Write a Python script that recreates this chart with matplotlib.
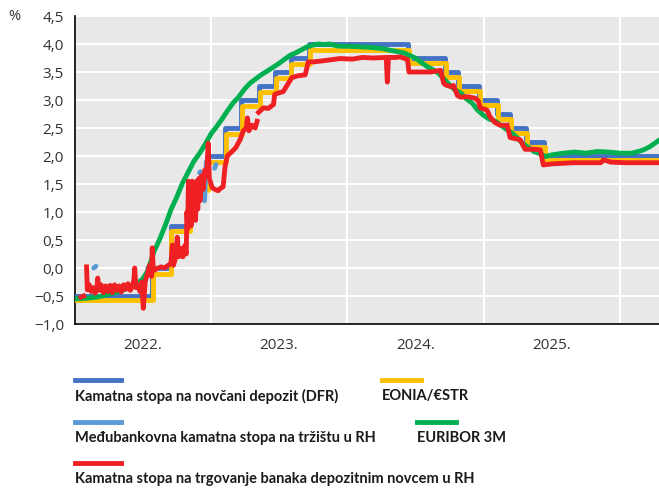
import numpy as np
import pandas as pd
import matplotlib
matplotlib.use('Agg')
import matplotlib.pyplot as plt
from matplotlib.lines import Line2D
from matplotlib.ticker import FuncFormatter, FixedLocator
import matplotlib.dates as mdates

# --- podaci (očitano sa slike) ---
dfr_datumi = ['2022-01-01', '2022-07-27', '2022-09-14', '2022-11-02', '2022-12-21',
              '2023-02-08', '2023-03-22', '2023-05-10', '2023-06-21', '2023-08-02',
              '2023-09-20', '2024-06-12', '2024-09-18', '2024-10-23', '2024-12-18',
              '2025-02-05', '2025-03-12', '2025-04-23', '2025-06-11', '2026-04-15']
dfr = [-0.5, 0.0, 0.75, 1.5, 2.0, 2.5, 3.0, 3.25, 3.5, 3.75,
       4.0, 3.75, 3.5, 3.25, 3.0, 2.75, 2.5, 2.25, 2.0, 2.0]

estr_datumi = ['2022-01-01', '2022-07-29', '2022-09-16', '2022-11-04', '2022-12-23',
               '2023-02-10', '2023-03-24', '2023-05-12', '2023-06-23', '2023-08-04',
               '2023-09-22', '2024-06-14', '2024-09-20', '2024-10-25', '2024-12-20',
               '2025-02-07', '2025-03-14', '2025-04-25', '2025-06-13', '2026-04-15']
estr = [-0.58, -0.10, 0.66, 1.40, 1.90, 2.40, 2.90, 3.15, 3.40, 3.65,
        3.90, 3.66, 3.41, 3.16, 2.91, 2.66, 2.41, 2.16, 1.92, 1.92]

euribor_datumi = ['2022-01-01', '2022-02-01', '2022-03-01', '2022-04-01', '2022-05-01',
                  '2022-06-01', '2022-06-15', '2022-07-01', '2022-07-15', '2022-08-01',
                  '2022-08-15', '2022-09-01', '2022-09-15', '2022-10-01', '2022-10-15',
                  '2022-11-01', '2022-11-15', '2022-12-01', '2022-12-15', '2023-01-01',
                  '2023-01-15', '2023-02-01', '2023-02-15', '2023-03-01', '2023-03-15',
                  '2023-04-01', '2023-04-15', '2023-05-01', '2023-05-15', '2023-06-01',
                  '2023-06-15', '2023-07-01', '2023-07-15', '2023-08-01', '2023-08-15',
                  '2023-09-01', '2023-09-15', '2023-10-01', '2023-10-15', '2023-11-01',
                  '2023-11-15', '2023-12-01', '2023-12-15', '2024-01-01', '2024-02-01',
                  '2024-03-01', '2024-04-01', '2024-05-01', '2024-06-01', '2024-07-01',
                  '2024-07-15', '2024-08-01', '2024-08-15', '2024-09-01', '2024-09-15',
                  '2024-10-01', '2024-10-15', '2024-11-01', '2024-11-15', '2024-12-01',
                  '2024-12-15', '2025-01-01', '2025-01-15', '2025-02-01', '2025-02-15',
                  '2025-03-01', '2025-03-15', '2025-04-01', '2025-04-15', '2025-05-01',
                  '2025-05-15', '2025-06-01', '2025-06-15', '2025-07-01', '2025-08-01',
                  '2025-09-01', '2025-10-01', '2025-11-01', '2025-12-01', '2026-01-01',
                  '2026-02-01', '2026-03-01', '2026-03-20', '2026-04-15']
euribor = [-0.55, -0.54, -0.52, -0.47, -0.42,
           -0.33, -0.28, -0.20, -0.05, 0.30,
           0.50, 0.78, 1.04, 1.27, 1.50,
           1.72, 1.90, 2.05, 2.20, 2.40,
           2.52, 2.68, 2.82, 2.95, 3.05,
           3.20, 3.30, 3.38, 3.45, 3.52,
           3.58, 3.65, 3.72, 3.80, 3.84,
           3.90, 3.95, 3.98, 4.00, 3.99,
           4.00, 3.97, 3.96, 3.96, 3.95,
           3.94, 3.92, 3.88, 3.84, 3.75,
           3.68, 3.60, 3.55, 3.48, 3.38,
           3.27, 3.18, 3.12, 3.02, 2.94,
           2.82, 2.72, 2.66, 2.62, 2.55,
           2.48, 2.42, 2.32, 2.22, 2.15,
           2.08, 2.04, 1.99, 2.02, 2.05,
           2.07, 2.05, 2.08, 2.07, 2.05,
           2.05, 2.10, 2.16, 2.28]

mnkt_datumi = ['2022-02-20', '2022-02-26', '2022-03-01', '2022-07-15', '2022-08-01', '2022-08-02',
               '2022-12-01', '2022-12-03', '2022-12-04', '2022-12-14', '2022-12-16', '2022-12-19',
               '2022-12-20', '2023-01-10', '2023-01-14']
mnkt = [0.00, 0.03, np.nan, 0.0, 0.0, np.nan,
        1.70, 1.72, np.nan, 1.20, 1.50, 1.90,
        np.nan, 1.78, 1.85]

dep_datumi = ['2022-01-17', '2022-01-24', '2022-01-28', '2022-02-01', '2022-02-03', '2022-02-08',
              '2022-02-13', '2022-02-18', '2022-02-24', '2022-03-01', '2022-03-03', '2022-03-06',
              '2022-03-12', '2022-03-18', '2022-03-24', '2022-03-30', '2022-04-05', '2022-04-11',
              '2022-04-17', '2022-04-23', '2022-04-29', '2022-05-05', '2022-05-11', '2022-05-17',
              '2022-05-23', '2022-05-29', '2022-06-04', '2022-06-08', '2022-06-10', '2022-06-13',
              '2022-06-18', '2022-06-24', '2022-06-29', '2022-07-03', '2022-07-08', '2022-07-14',
              '2022-07-20', '2022-07-25', '2022-07-27', '2022-07-30', '2022-08-12', '2022-08-20',
              '2022-08-28', '2022-09-08', '2022-09-15', '2022-09-19', '2022-09-22', '2022-09-28',
              '2022-10-02', '2022-10-06', '2022-10-12', '2022-10-17', '2022-10-22', '2022-10-26',
              '2022-10-28', '2022-10-30', '2022-11-01', '2022-11-03', '2022-11-05', '2022-11-08',
              '2022-11-11', '2022-11-14', '2022-11-17', '2022-11-20', '2022-11-23', '2022-11-26',
              '2022-11-29', '2022-12-02', '2022-12-06', '2022-12-10', '2022-12-15', '2022-12-20',
              '2022-12-24', '2022-12-27', '2023-01-04', '2023-01-12', '2023-01-20', '2023-01-25',
              '2023-02-02', '2023-02-07', '2023-02-13', '2023-02-21', '2023-03-01', '2023-03-08',
              '2023-03-20', '2023-03-28', '2023-04-05', '2023-04-08', '2023-04-12', '2023-04-20',
              '2023-04-29', '2023-05-04', '2023-05-06', '2023-05-08', '2023-05-21', '2023-06-03',
              '2023-06-17', '2023-06-20', '2023-06-28', '2023-07-13', '2023-07-27', '2023-08-05',
              '2023-08-20', '2023-09-10', '2023-09-18', '2023-10-01', '2023-10-28', '2023-11-20',
              '2023-12-12', '2024-01-15', '2024-02-10', '2024-03-10', '2024-04-14', '2024-04-17',
              '2024-04-20', '2024-05-10', '2024-05-22', '2024-06-10', '2024-06-14', '2024-07-15',
              '2024-08-11', '2024-09-07', '2024-09-15', '2024-09-20', '2024-10-03', '2024-10-11',
              '2024-10-22', '2024-10-30', '2024-11-18', '2024-12-09', '2024-12-17', '2024-12-22',
              '2025-01-09', '2025-01-17', '2025-01-30', '2025-02-13', '2025-03-04', '2025-03-12',
              '2025-04-08', '2025-04-21', '2025-05-15', '2025-06-01', '2025-06-09', '2025-07-03',
              '2025-08-29', '2025-11-10', '2025-11-18', '2025-12-07', '2026-01-15', '2026-04-15']
dep = [-0.52, -0.50, np.nan, 0.02, -0.39, -0.30,
       -0.42, -0.35, -0.45, -0.33, -0.18, -0.40,
       -0.30, -0.44, -0.32, -0.42, -0.31, -0.44,
       -0.30, -0.40, -0.32, -0.43, -0.30, -0.38,
       -0.28, -0.40, -0.33, -0.20, 0.00, -0.35,
       -0.30, -0.42, -0.25, -0.72, -0.25, -0.10,
       0.05, -0.15, 0.36, -0.05, 0.00, 0.02,
       0.00, 0.05, 0.08, 0.41, 0.05, 0.20,
       0.55, 0.20, 0.35, 0.20, 0.40, 0.25,
       1.00, 0.70, 1.55, 0.95, 1.50, 0.75,
       1.55, 0.90, 1.50, 0.85, 1.55, 1.05,
       1.60, 1.20, 1.65, 1.40, 1.75, 1.65,
       2.23, 1.60, 1.43, 1.40, 1.38, 1.42,
       1.45, 1.80, 2.00, 2.05, 2.10, 2.15,
       2.30, 2.45, 2.50, 2.68, 2.45, 2.55,
       2.50, 2.62, np.nan, 2.78, 2.86, 2.85,
       2.92, 3.10, 3.12, 3.15, 3.30, 3.40,
       3.43, 3.45, 3.68, 3.68, 3.70, 3.72,
       3.74, 3.73, 3.76, 3.75, 3.76, 3.32,
       3.76, 3.76, 3.77, 3.72, 3.50, 3.50,
       3.50, 3.53, 3.30, 3.27, 3.24, 3.26,
       3.08, 3.05, 3.06, 3.03, 2.98, 2.86,
       2.82, 2.70, 2.60, 2.55, 2.55, 2.33,
       2.29, 2.12, 2.12, 2.11, 1.84, 1.86,
       1.88, 1.88, 1.93, 1.89, 1.88, 1.88]

godine = [2022, 2023, 2024, 2025]
oznake_godina = ['2022.', '2023.', '2024.', '2025.']

# --- crtanje ---
fig = plt.figure(figsize=(6.59, 4.90), dpi=100)
ax = fig.add_axes([75 / 659, 1 - 324 / 490, 1 - 75 / 659, (324 - 16) / 490])
ax.set_facecolor('#E8E8E8')

lw = 3.5
ax.plot(pd.to_datetime(dfr_datumi), dfr, color='#4472C4', lw=lw, drawstyle='steps-post', zorder=3)
ax.plot(pd.to_datetime(estr_datumi), estr, color='#FFC000', lw=lw, drawstyle='steps-post', zorder=4)
ax.plot(pd.to_datetime(mnkt_datumi), mnkt, color='#5B9BD5', lw=lw, zorder=5, solid_capstyle='round')
ax.plot(pd.to_datetime(euribor_datumi), euribor, color='#00B050', lw=lw, zorder=6)
ax.plot(pd.to_datetime(dep_datumi), dep, color='#EE2024', lw=lw, zorder=7)

ax.set_xlim(pd.Timestamp('2022-01-01'), pd.Timestamp('2026-04-15'))
ax.set_ylim(-1.0, 4.5)

ax.yaxis.set_major_locator(FixedLocator(np.arange(-1.0, 4.51, 0.5)))
ax.yaxis.set_major_formatter(FuncFormatter(lambda v, p: f'{v:.1f}'.replace('.', ',').replace('-', '\u2212')))

ax.xaxis.set_major_locator(mdates.YearLocator())
ax.xaxis.set_major_formatter(FuncFormatter(lambda v, p: ''))
sredine = [mdates.date2num(pd.Timestamp(f'{g}-07-02')) for g in godine]
ax.xaxis.set_minor_locator(FixedLocator(sredine))
ax.xaxis.set_minor_formatter(FuncFormatter(lambda v, p: oznake_godina[p] if p is not None and p < len(oznake_godina) else ''))

ax.grid(True, which='major', color='white', lw=1.5, zorder=0)
ax.set_axisbelow(True)
ax.tick_params(which='both', length=0, labelsize=11, labelcolor='#333333')
ax.tick_params(axis='y', pad=8)
ax.tick_params(axis='x', which='minor', pad=10)
for lab in ax.get_xticklabels(minor=True) + ax.get_yticklabels():
    lab.set_family('Open Sans')

for s in ['top', 'right']:
    ax.spines[s].set_visible(False)
for s in ['left', 'bottom']:
    ax.spines[s].set_color('black')
    ax.spines[s].set_linewidth(1.2)

fig.text(14 / 659, 1 - 16 / 490, '%', ha='center', va='center', fontsize=10.5,
         color='#333333', family='Open Sans')

# --- legenda ispod grafikona ---
legenda = [
    ('Kamatna stopa na novčani depozit (DFR)', '#4472C4', 75, 121, 380),
    ('EONIA/€STR', '#FFC000', 382, 421, 380),
    ('Međubankovna kamatna stopa na tržištu u RH', '#5B9BD5', 75, 121, 422),
    ('EURIBOR 3M', '#00B050', 417, 456, 422),
    ('Kamatna stopa na trgovanje banaka depozitnim novcem u RH', '#EE2024', 75, 121, 463),
]
for tekst, boja, x0, x1, y in legenda:
    fig.add_artist(Line2D([x0 / 659, x1 / 659], [1 - y / 490, 1 - y / 490],
                          transform=fig.transFigure, color=boja, lw=3.5))
    fig.text(x0 / 659, 1 - (y + 16) / 490, tekst, ha='left', va='center', fontsize=10.5,
             family=['Lato', 'DejaVu Sans'], weight='bold', color='#1A1A1A')

fig.savefig('out.png', dpi=100)
